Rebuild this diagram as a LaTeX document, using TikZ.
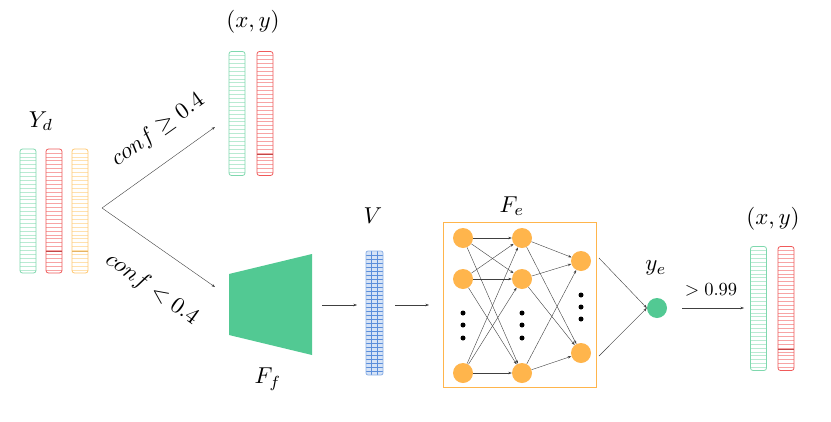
\documentclass[tikz,border=0pt]{standalone}
\usetikzlibrary{arrows.meta}
\definecolor{sgreen}{HTML}{7FD8AE}
\definecolor{sred}{HTML}{F05A5A}
\definecolor{syellow}{HTML}{FFC870}
\definecolor{tgreen}{HTML}{52C993}
\definecolor{norange}{HTML}{FFB54C}
\definecolor{vblue}{HTML}{5B8EDB}
\tikzset{
  stripe/.style={draw=#1, line width=0.8pt, rounded corners=2.5pt, minimum width=16pt, minimum height=124pt, inner sep=0pt,
    path picture={\foreach \i in {1,...,31} \draw[#1!55, line width=0.5pt] ([yshift=-\i*3.9pt]path picture bounding box.north west) -- ++(16pt,0);}},
  vstripe/.style={draw=vblue!70, fill=vblue!25, line width=0.8pt, rounded corners=2pt, minimum width=17pt, minimum height=124pt, inner sep=0pt,
    path picture={\foreach \i in {1,...,30} \draw[vblue, line width=0.5pt] ([yshift=-\i*4pt]path picture bounding box.north west) -- ++(17pt,0);
      \foreach \j in {1,2} \draw[vblue, line width=0.5pt] ([xshift=\j*5.67pt]path picture bounding box.north west) -- ++(0,-124pt);}},
  neuron/.style={circle, fill=norange, minimum size=20pt, inner sep=0pt},
  conn/.style={draw=black!75, line width=0.4pt, -{Stealth[length=3.5pt,width=2.5pt]}},
  lbl/.style={scale=2.3, inner sep=0pt},
  dot/.style={circle, fill=black, minimum size=5pt, inner sep=0pt},
}
\begin{document}
\begin{tikzpicture}[x=1pt,y=-1pt]
\useasboundingbox[fill=white] (0,0) rectangle (831,421);
% Y_d
\node[lbl] (yd) at (41,121) {$Y_d$};
\node[stripe=sgreen] (ydg) at (28,211) {};
\node[stripe=sred] (ydr) at (54,211) {};
\node[stripe=syellow] (ydy) at (80,211) {};
\draw[sred!80!black, line width=0.8pt] (46,251) -- (62,251);
\draw[syellow!90!black, line width=0.8pt] (72,251) -- (88,251);
% branch
\coordinate (br) at (102,208);
\coordinate (up) at (215,127);
\coordinate (dn) at (215,287);
\draw[conn] (br) -- (up);
\draw[conn] (br) -- (dn);
\node[lbl, rotate=35.6] (lup) at (158,130) {$conf \geq 0.4$};
\node[lbl, rotate=-35.6] (ldn) at (152,289) {$conf < 0.4$};
% upper (x,y)
\node[lbl] (xy1) at (253,22) {$(x,y)$};
\node[stripe=sgreen] (u1g) at (237,113.5) {};
\node[stripe=sred] (u1r) at (265,113.5) {};
\draw[sred!80!black, line width=0.8pt] (257,154) -- (273,154);
% F_f trapezoid
\fill[tgreen] (229,274) -- (312,254) -- (312,355) -- (229,335) -- cycle;
\node[lbl] (ff) at (268,379) {$F_f$};
\coordinate (ffr) at (322,305);
% V
\node[lbl] (vl) at (373,216) {$V$};
\node[vstripe] (v) at (374.5,313) {};
\coordinate (vin) at (357,305);
\coordinate (vout) at (395,305);
\draw[conn] (ffr) -- (vin);
\coordinate (boxl) at (429,305);
\draw[conn] (vout) -- (boxl);
% F_e box
\node[lbl] (fe) at (512,206) {$F_e$};
\node[draw=norange, line width=1pt, minimum width=153pt, minimum height=165pt, inner sep=0pt] (box) at (519.5,304.5) {};
\node[neuron] (a1) at (463,238) {};
\node[neuron] (a2) at (463,279) {};
\node[neuron] (a3) at (463,373) {};
\node[neuron] (b1) at (522,238) {};
\node[neuron] (b2) at (522,279) {};
\node[neuron] (b3) at (522,373) {};
\node[neuron] (c1) at (581,261) {};
\node[neuron] (c2) at (581,353) {};
\foreach \y [count=\k] in {313,325,338} {
  \node[dot] (da\k) at (463,\y) {};
  \node[dot] (db\k) at (522,\y) {};
}
\foreach \y [count=\k] in {295,307,319} \node[dot] (dc\k) at (581,\y) {};
\foreach \s in {a1,a2,a3} \foreach \t in {b1,b2,b3} \draw[conn] (\s) -- (\t);
\foreach \s in {b1,b2,b3} \foreach \t in {c1,c2} \draw[conn] (\s) -- (\t);
% y_e
\node[circle, fill=tgreen, minimum size=20pt, inner sep=0pt] (ye) at (657,308) {};
\node[lbl] (yel) at (656,268) {$y_e$};
\coordinate (o1) at (599,258);
\coordinate (o2) at (599,356);
\draw[conn] (o1) -- (ye.west);
\draw[conn] (o2) -- (ye.west);
\coordinate (as) at (682,308);
\coordinate (ae) at (744,308);
\draw[conn] (as) -- (ae);
\node[scale=1.85, inner sep=0pt] (thr) at (711,290) {$>0.99$};
% right (x,y)
\node[lbl] (xy2) at (773,219) {$(x,y)$};
\node[stripe=sgreen] (r1g) at (758.5,308.5) {};
\node[stripe=sred] (r1r) at (786,308.5) {};
\draw[sred!80!black, line width=0.8pt] (778,349) -- (794,349);
\end{tikzpicture}
\end{document}
